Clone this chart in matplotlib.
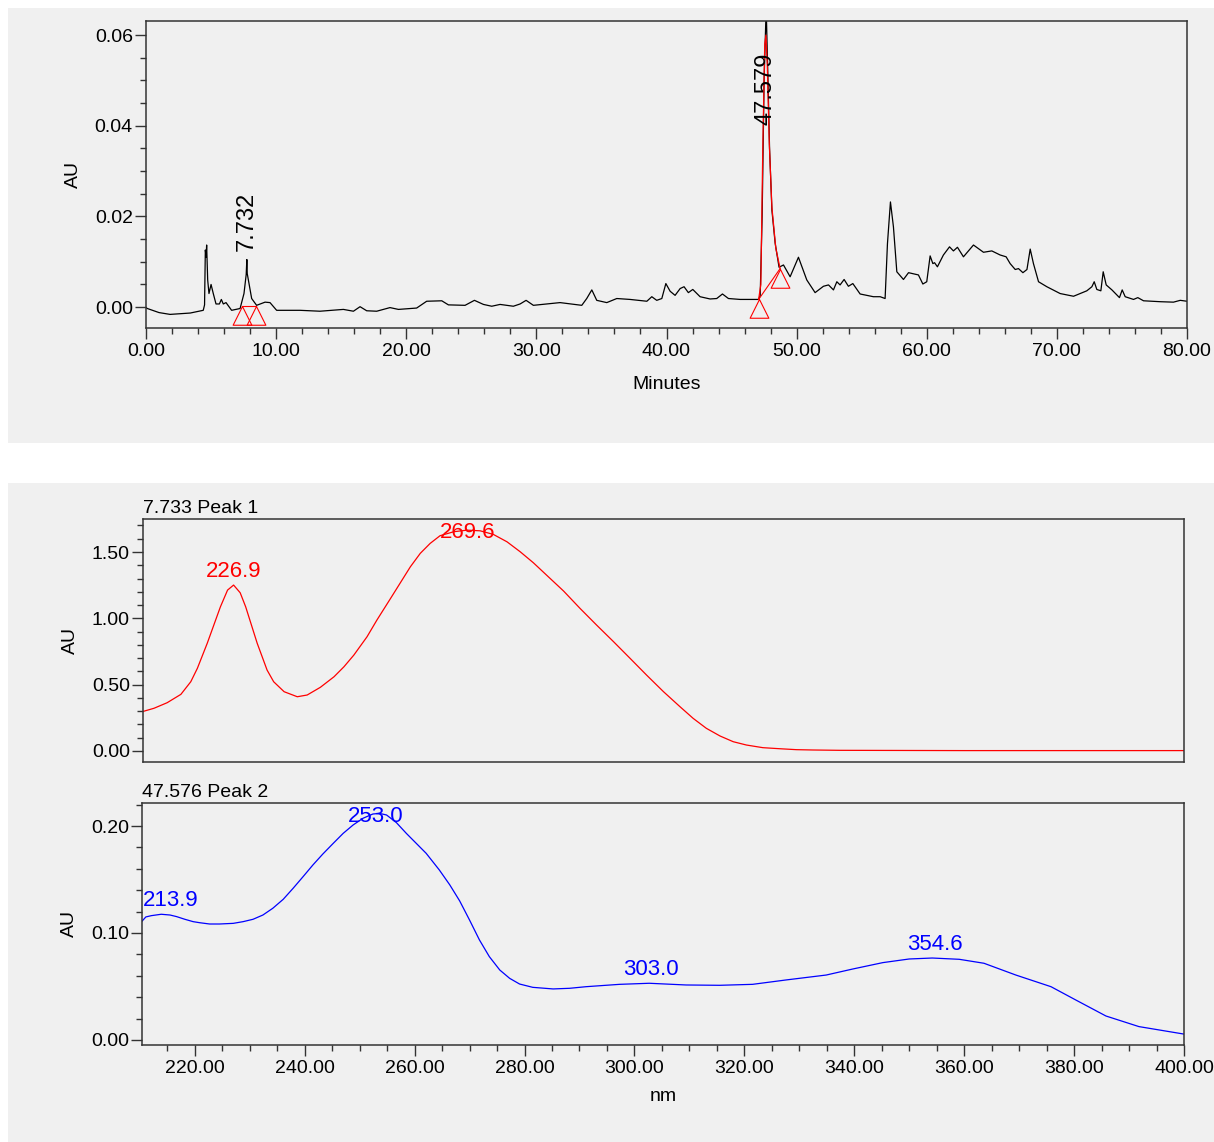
import numpy as np
import matplotlib.pyplot as plt
from matplotlib.patches import Rectangle
from matplotlib.ticker import MultipleLocator, FormatStrFormatter

plt.rcParams['font.family'] = ['Liberation Sans', 'DejaVu Sans']

# Cromatograma (minutos, AU)
chrom_t = [0.0, 0.1, 1.0, 1.85, 3.4, 4.4, 4.5, 4.56, 4.62, 4.66, 4.74, 4.84, 5.0, 5.17,
           5.38, 5.64, 5.79, 5.94, 6.15, 6.58, 7.23, 7.53, 7.70, 7.75, 7.78, 7.9, 8.12,
           8.5, 9.15, 9.53, 10.04, 11.84, 13.37, 15.17, 15.94, 16.45, 16.96, 17.73, 18.75,
           19.4, 20.8, 21.57, 22.73, 23.24, 24.52, 25.24, 25.93, 26.57, 27.21, 28.23, 28.75,
           29.21, 29.77, 31.82, 33.49, 33.87, 34.26, 34.64, 35.41, 36.18, 37.2, 38.49, 38.87,
           39.25, 39.64, 39.95, 40.28, 40.66, 41.05, 41.35, 41.68, 42.02, 42.58, 43.35, 43.86,
           44.3, 44.76, 45.66, 47.07, 47.2, 47.35, 47.5, 47.66, 47.8, 47.92, 48.1, 48.35,
           48.65, 48.99, 49.5, 50.14, 50.78, 51.42, 52.06, 52.45, 52.83, 53.09, 53.34, 53.65,
           53.98, 54.32, 54.88, 55.9, 56.42, 56.8, 56.98, 57.21, 57.44, 57.7, 58.21, 58.6,
           59.36, 59.7, 60.0, 60.26, 60.47, 60.6, 60.82, 61.28, 61.75, 62.05, 62.36, 62.82,
           63.59, 64.36, 65.0, 65.64, 66.1, 66.41, 66.8, 67.05, 67.39, 67.7, 67.95, 68.2,
           68.59, 69.23, 70.25, 71.28, 72.3, 72.69, 72.87, 73.07, 73.38, 73.56, 73.79, 74.23,
           74.81, 75.02, 75.25, 75.89, 76.22, 76.66, 77.94, 78.96, 79.48, 80.0]
chrom_au = [-0.0001, -0.0003, -0.0012, -0.0016, -0.0013, -0.0007, 0.0005, 0.0126, 0.0110, 0.0137,
            0.006, 0.003, 0.005, 0.003, 0.0007, 0.0007, 0.0017, 0.0007, 0.001, -0.0007, -0.0003,
            0.003, 0.0072, 0.0105, 0.0074, 0.0055, 0.0019, 0.0004, 0.0011, 0.001, -0.0007,
            -0.0007, -0.0009, -0.0005, -0.0009, 0.0001, -0.0008, -0.0009, -0.0001, -0.0005,
            -0.0002, 0.0013, 0.0014, 0.0005, 0.0004, 0.0015, 0.0006, 0.0002, 0.0006, 0.0002,
            0.0007, 0.0015, 0.0004, 0.0010, 0.0004, 0.0019, 0.0038, 0.0015, 0.0010, 0.0019,
            0.0017, 0.0013, 0.0023, 0.0015, 0.0019, 0.0052, 0.0035, 0.0026, 0.0041, 0.0045,
            0.0032, 0.0039, 0.0023, 0.0018, 0.0019, 0.0029, 0.0019, 0.0017, 0.0017, 0.0025,
            0.02, 0.05, 0.066, 0.05, 0.035, 0.0214, 0.0141, 0.0088, 0.0093, 0.0067, 0.011,
            0.006, 0.0032, 0.0046, 0.0049, 0.0038, 0.0056, 0.0049, 0.0061, 0.0046, 0.0052,
            0.0029, 0.0023, 0.0023, 0.0019, 0.014, 0.0232, 0.0177, 0.0078, 0.0061, 0.0076,
            0.0071, 0.0051, 0.0056, 0.0113, 0.0096, 0.0098, 0.0089, 0.0115, 0.0133, 0.0124,
            0.0132, 0.0111, 0.0137, 0.0121, 0.0124, 0.0115, 0.0111, 0.0096, 0.0083, 0.0085,
            0.0076, 0.0083, 0.0128, 0.0096, 0.0056, 0.0045, 0.003, 0.0024, 0.0036, 0.0045,
            0.0056, 0.0039, 0.0036, 0.0078, 0.0049, 0.0038, 0.0021, 0.0038, 0.0023, 0.0017,
            0.0021, 0.0014, 0.0012, 0.0011, 0.0015, 0.0013]

# Pico integrado 2 (traza roja)
fit_t = [47.08, 47.25, 47.4, 47.55, 47.64, 47.75, 47.9, 48.1, 48.4, 48.73]
fit_au = [0.0017, 0.005, 0.035, 0.058, 0.060, 0.053, 0.036, 0.022, 0.013, 0.0085]

# Lineas base de los picos (inicio, fin)
base_t = [[7.35, 8.45], [47.08, 48.73]]
base_au = [[0.0003, 0.0003], [0.0017, 0.0085]]

peak_rt = [7.732, 47.579]
peak_rt_labels = ['7.732', '47.579']

# Espectro pico 1
wl1 = [210.4, 212.4, 214.8, 217.3, 219.1, 220.3, 222.1, 224.5, 225.8, 226.9, 228.1, 229.1,
       231.2, 233.0, 234.2, 236.1, 238.5, 240.3, 242.7, 245.2, 247.0, 248.8, 251.2, 253.0,
       255.5, 257.3, 259.1, 260.9, 262.7, 264.5, 267.0, 269.4, 271.8, 274.2, 276.7, 279.1,
       281.5, 283.9, 287.0, 290.0, 293.0, 296.1, 299.1, 302.1, 305.2, 308.2, 310.6, 313.0,
       315.5, 317.9, 320.3, 323.3, 326.4, 329.4, 332.4, 337.3, 360.0, 400.0]
au1 = [0.298, 0.322, 0.364, 0.427, 0.522, 0.623, 0.812, 1.087, 1.213, 1.251, 1.193, 1.087,
       0.812, 0.61, 0.522, 0.447, 0.409, 0.422, 0.48, 0.56, 0.635, 0.723, 0.861, 0.987,
       1.151, 1.27, 1.389, 1.49, 1.565, 1.623, 1.653, 1.665, 1.66, 1.633, 1.577, 1.502,
       1.419, 1.326, 1.206, 1.075, 0.95, 0.824, 0.699, 0.573, 0.447, 0.334, 0.246, 0.171,
       0.113, 0.070, 0.045, 0.025, 0.017, 0.010, 0.0075, 0.005, 0.003, 0.003]
maxima1 = [226.9, 269.6]

# Espectro pico 2
wl2 = [210.4, 211.1, 212.1, 213.9, 215.5, 216.7, 218.2, 219.7, 220.9, 222.7, 224.5, 227.0,
       228.8, 230.6, 232.4, 234.2, 236.1, 237.9, 239.7, 241.5, 243.3, 245.2, 247.0, 248.8,
       250.6, 252.4, 253.6, 254.9, 256.7, 258.5, 260.3, 262.1, 264.5, 266.4, 268.2, 270.0,
       271.8, 273.6, 275.5, 277.3, 279.1, 281.5, 285.2, 288.2, 291.2, 297.3, 302.7, 309.4,
       315.5, 321.5, 327.6, 334.9, 339.7, 345.2, 350.0, 354.2, 359.1, 363.6, 369.4, 375.8,
       380.3, 385.8, 391.8, 400.0]
au2 = [0.1110, 0.1150, 0.1162, 0.1175, 0.1168, 0.1153, 0.1128, 0.1106, 0.1096, 0.1084,
       0.1084, 0.1090, 0.1106, 0.1128, 0.1168, 0.1231, 0.1315, 0.1418, 0.1526, 0.1636,
       0.1738, 0.1838, 0.1931, 0.2009, 0.2072, 0.2112, 0.2118, 0.2103, 0.2031, 0.1931,
       0.1838, 0.1745, 0.1589, 0.1450, 0.1300, 0.1121, 0.0935, 0.0779, 0.0654, 0.0576,
       0.0523, 0.0492, 0.0477, 0.0483, 0.0498, 0.0520, 0.0530, 0.0514, 0.0511, 0.0520,
       0.0561, 0.0607, 0.0663, 0.0723, 0.0757, 0.0766, 0.0754, 0.0717, 0.0607, 0.0498,
       0.0374, 0.0224, 0.0125, 0.0055]
maxima2 = [213.9, 253.0, 303.0, 354.6]

W, H = 1214, 1142
BG = '#f0f0f0'
FS = 14
fig = plt.figure(figsize=(W / 100, H / 100), dpi=100, facecolor='white')


def rect(l, t, r, b):
    return [l / W, 1 - b / H, (r - l) / W, (b - t) / H]


# paneles grises de fondo (por debajo de los ejes)
for l, t, r, b in [(8, 8, W, 443), (8, 483, W, H)]:
    fig.add_artist(Rectangle((l / W, 1 - b / H), (r - l) / W, (b - t) / H,
                             transform=fig.transFigure, facecolor=BG,
                             edgecolor='none', zorder=-5))


def estilo(ax):
    ax.set_facecolor(BG)
    for s in ax.spines.values():
        s.set_color('#333333')
        s.set_linewidth(1.1)
    ax.tick_params(which='both', direction='out', colors='#333333', labelcolor='black',
                   labelsize=FS, width=1.0)
    ax.tick_params(which='major', length=8)
    ax.tick_params(which='minor', length=4.3)
    ax.tick_params(axis='y', pad=1.5)
    ax.tick_params(axis='x', pad=3)


etiquetas = []


def etiqueta(ax, x, y, s, color, size, rot=0, gap=4):
    t = ax.annotate(s, (x, y), xytext=(0, 5.8), textcoords='offset points',
                    ha='center', va='bottom' if rot else 'baseline', rotation=rot,
                    color=color, fontsize=size, annotation_clip=False)
    etiquetas.append((ax, t, gap))


# --- Cromatograma ---
ax0 = fig.add_axes(rect(146, 21, 1187, 328))
estilo(ax0)
ax0.plot(chrom_t, chrom_au, color='black', lw=0.9)
ax0.plot(fit_t, fit_au, color='red', lw=0.9)
tri = [(0, 0), (-0.5, -1), (0.5, -1), (0, 0)]
for bt, ba in zip(base_t, base_au):
    ax0.plot(bt, ba, color='red', lw=0.8)
    ax0.plot(bt, ba, ls='none', marker=tri, ms=27, mec='red', mfc='none', mew=0.8)
ax0.set_xlim(0, 80)
ax0.set_ylim(-0.0046, 0.0631)
ax0.xaxis.set_major_locator(MultipleLocator(10))
ax0.xaxis.set_minor_locator(MultipleLocator(2))
ax0.yaxis.set_major_locator(MultipleLocator(0.02))
ax0.yaxis.set_minor_locator(MultipleLocator(0.005))
ax0.xaxis.set_major_formatter(FormatStrFormatter('%.2f'))
ax0.yaxis.set_major_formatter(FormatStrFormatter('%.2f'))
ax0.set_xlabel('Minutes', fontsize=FS, labelpad=11)
ax0.set_ylabel('AU', fontsize=FS, labelpad=9)
ct = np.array(chrom_t)
ca = np.array(chrom_au)
for rt, lab in zip(peak_rt, peak_rt_labels):
    ventana = np.abs(ct - rt) < 0.2
    etiqueta(ax0, rt, ca[ventana].max(), lab, 'black', 17, rot=90, gap=32)

# --- Espectros ---
ax1 = fig.add_axes(rect(143, 519, 1184, 762))
ax2 = fig.add_axes(rect(142, 803, 1184, 1045))
for ax, wl, au, maxima, color, titulo, ylim, may, men in [
        (ax1, wl1, au1, maxima1, 'red', '7.733 Peak 1', (-0.083, 1.749), 0.5, 0.1),
        (ax2, wl2, au2, maxima2, 'blue', '47.576 Peak 2', (-0.0047, 0.2215), 0.1, 0.02)]:
    estilo(ax)
    ax.plot(wl, au, color=color, lw=0.9)
    ax.set_xlim(210.4, 400)
    ax.set_ylim(*ylim)
    ax.xaxis.set_major_locator(MultipleLocator(20))
    ax.xaxis.set_minor_locator(MultipleLocator(5))
    ax.yaxis.set_major_locator(MultipleLocator(may))
    ax.yaxis.set_minor_locator(MultipleLocator(men))
    ax.xaxis.set_major_formatter(FormatStrFormatter('%.2f'))
    ax.yaxis.set_major_formatter(FormatStrFormatter('%.2f'))
    ax.set_ylabel('AU', fontsize=FS, labelpad=9)
    ax.set_title(titulo, loc='left', fontsize=FS, pad=4)
    for m in maxima:
        etiqueta(ax, m, np.interp(m, wl, au), f'{m:.1f}', color, 16, gap=3)

ax1.tick_params(axis='x', which='both', bottom=False, labelbottom=False)
ax2.set_xlabel('nm', fontsize=FS, labelpad=8)

# mantener las etiquetas de los picos dentro de los ejes
fig.canvas.draw()
r = fig.canvas.get_renderer()
k = 72 / fig.dpi
for ax, t, gap in etiquetas:
    bb = t.get_window_extent(r)
    caja = ax.get_window_extent(r)
    dx, dy = 0, 5.8
    if bb.y1 > caja.y1 - gap:
        dy -= (bb.y1 - (caja.y1 - gap)) * k
    if bb.x0 < caja.x0 + 1:
        dx += (caja.x0 + 1 - bb.x0) * k
    t.xyann = (dx, dy)

fig.savefig('out.png', dpi=100, facecolor='white')
